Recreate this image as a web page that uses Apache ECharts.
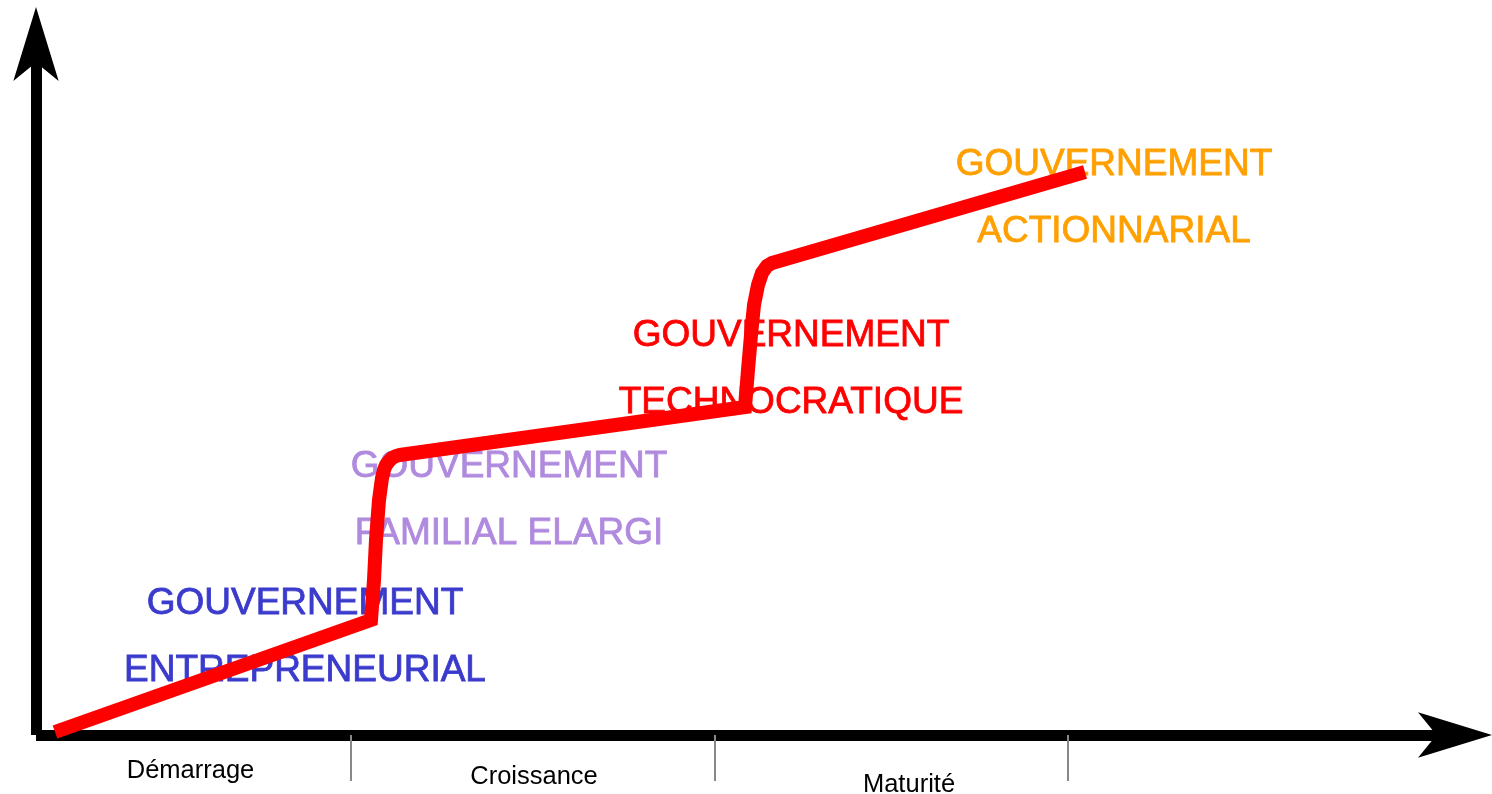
<!DOCTYPE html>
<html>
<head>
    <meta charset="utf-8">
    <title>Gouvernement</title>
    <script src="https://cdn.jsdelivr.net/npm/echarts@6/dist/echarts.min.js"></script>
    <style>html, body { margin: 0; padding: 0; background: #fff; }</style>
</head>

<body>
    <div id="demo" style="width: 1492px;height:794px;"></div>
    <script type="text/javascript">
        // courbe rouge
        var pathX = [19, 335, 338, 340, 343, 346, 348, 350, 353, 356, 360, 364,
                     709, 712, 715, 718, 722, 726, 731, 736, 1049];
        var pathY = [3, 115, 155, 195, 235, 257, 265, 270, 274, 277, 279, 280,
                     328, 365, 400, 430, 450, 462, 469, 472, 563];

        // phases sur l'axe horizontal
        var phases = ['Démarrage', 'Croissance', 'Maturité'];
        var phaseX = [154.5, 498, 873];
        var phaseSep = [315, 679, 1032];

        // types de gouvernement
        var govNames = ['GOUVERNEMENT\nENTREPRENEURIAL', 'GOUVERNEMENT\nFAMILIAL ELARGI',
                        'GOUVERNEMENT\nTECHNOCRATIQUE', 'GOUVERNEMENT\nACTIONNARIAL'];
        var govX = [269, 473, 755, 1078];
        var govY = [98, 234.5, 365.5, 537];

        var govColors = ['#3a3acc', '#b08ade', '#ff0000', '#ffa000'];
        var font = '"Liberation Sans", Arial, sans-serif';
        var phaseKeys = ['d', 'c', 'm'];

        var dom = document.getElementById('demo');
        var chart = echarts.init(dom);

        var axisLine = {
            show: true,
            onZero: false,
            symbol: ['none', 'arrow'],
            symbolSize: [34, 74],
            symbolOffset: [0, 20],
            lineStyle: { color: '#000', width: 11, cap: 'butt' }
        };

        var option = {
            animation: false,
            grid: { left: 36, right: 20, top: 27, bottom: 59, outerBoundsMode: 'none', containLabel: false },
            xAxis: {
                type: 'value',
                min: 0,
                max: 1436,
                splitLine: { show: false },
                axisLine: axisLine,
                axisTick: {
                    show: true,
                    customValues: phaseSep,
                    length: 46,
                    lineStyle: { color: '#888', width: 2 }
                },
                axisLabel: {
                    customValues: phaseX,
                    margin: 23,
                    fontSize: 25.5,
                    fontFamily: font,
                    color: '#000',
                    formatter: function (value) {
                        var i = phaseX.indexOf(value);
                        return '{' + phaseKeys[i] + '|' + phases[i] + '}';
                    },
                    rich: {
                        d: { fontSize: 25.5, fontFamily: font, color: '#000', lineHeight: 26 },
                        c: { fontSize: 25.5, fontFamily: font, color: '#000', lineHeight: 37 },
                        m: { fontSize: 25.5, fontFamily: font, color: '#000', lineHeight: 53 }
                    }
                }
            },
            yAxis: {
                type: 'value',
                min: 0,
                max: 708,
                splitLine: { show: false },
                axisLine: axisLine,
                axisTick: { show: false },
                axisLabel: { show: false }
            },
            series: [
                {
                    type: 'scatter',
                    z: 1,
                    silent: true,
                    symbolSize: 1,
                    itemStyle: { color: 'transparent', opacity: 1 },
                    data: govNames.map(function (n, i) {
                        return {
                            value: [govX[i], govY[i]],
                            label: { color: govColors[i], textBorderColor: govColors[i] }
                        };
                    }),
                    label: {
                        show: true,
                        position: 'inside',
                        align: 'center',
                        fontSize: 37,
                        lineHeight: 67,
                        fontFamily: font,
                        textBorderWidth: 0.8,
                        formatter: function (p) { return govNames[p.dataIndex]; }
                    }
                },
                {
                    type: 'line',
                    z: 3,
                    silent: true,
                    symbol: 'none',
                    data: pathX.map(function (x, i) { return [x, pathY[i]]; }),
                    lineStyle: { color: '#ff0000', width: 14, join: 'miter', cap: 'butt' }
                }
            ]
        };

        chart.setOption(option);
    </script>
</body>
</html>
